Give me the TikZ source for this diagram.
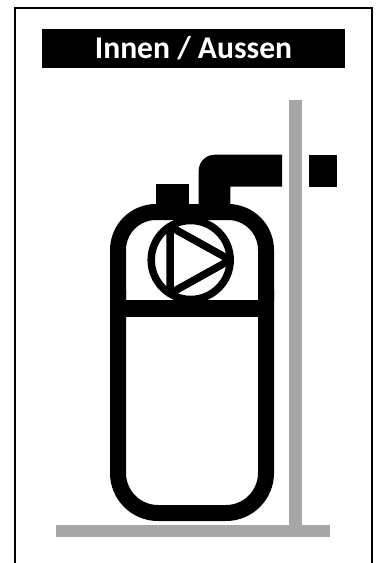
\documentclass[tikz,border=0pt]{standalone}
\usepackage{fontspec}
\setmainfont{Carlito}
\definecolor{wallgray}{HTML}{A6A6A6}
\begin{document}
\begin{tikzpicture}[x=1pt,y=-1pt,
  solid black/.style={fill=black,draw=none},
  wall/.style={fill=wallgray,draw=none},
  vessel/.style={draw=black,line width=16pt},
  pumpline/.style={draw=black,line width=7.5pt}]
\useasboundingbox (0,0) rectangle (376,563);
\fill[white] (0,0) rectangle (376,563);
% frame, open at the bottom
\draw[black,line width=2pt,line join=miter] (14.5,563) -- (14.5,7.5) -- (372,7.5) -- (372,563);
% title
\node[fill=black,text=white,minimum width=303pt,minimum height=39pt,inner sep=0pt,
  font=\fontsize{31.6}{34}\selectfont\bfseries] (title) at (193.5,48.5) {Innen / Aussen};
% wall and floor
\fill[wall] (289,100) rectangle (302,530);
\fill[wall] (56,525) rectangle (330,537);
% stub and pipe
\fill[solid black] (156,184) rectangle (189,210);
\fill[solid black] (198.7,210) [rounded corners=16pt] -- (198.7,154.7) [sharp corners] -- (282,154.7) -- (282,186.7) -- (230.3,186.7) -- (230.3,210) -- cycle;
\fill[solid black] (309,155) rectangle (336.7,186.7);
% vessel
\draw[vessel,rounded corners=38pt] (118,300) -- (118,212) -- (266,212) -- (266,300);
\draw[vessel,rounded corners=40pt] (118,290) -- (118,513) -- (266,513) -- (266,290);
\fill[solid black] (118,300) rectangle (266,317);
% pump
\draw[pumpline] (190.7,260) circle[radius=39.5];
\begin{scope}
\clip (190.7,260) circle[radius=43];
\draw[pumpline,line join=round] (170,226.5) -- (230.2,260) -- (170,293.5) -- cycle;
\end{scope}
\end{tikzpicture}
\end{document}
